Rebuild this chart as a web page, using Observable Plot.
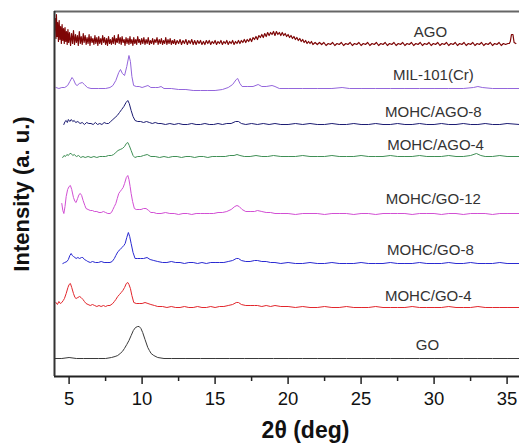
<!DOCTYPE html>
<html>
<head>
<meta charset="utf-8">
<script src="https://cdn.jsdelivr.net/npm/d3@7"></script>
<script src="https://cdn.jsdelivr.net/npm/@observablehq/plot@0.6"></script>
<style>
  html, body { margin: 0; padding: 0; background: #fff; }
  svg { display: block; }
</style>
</head>
<body>
<div id="chart"></div>
<script>
// ---- Data (2θ in degrees, intensity in arbitrary stacked units) ----
const seriesNames = ["AGO", "MIL-101(Cr)", "MOHC/AGO-8", "MOHC/AGO-4", "MOHC/GO-12", "MOHC/GO-8", "MOHC/GO-4", "GO"];
const seriesColors = ["#7e0606", "#9466dc", "#1c1c72", "#3f8f55", "#d24fd4", "#2a2ad2", "#e2262c", "#3a3a3a"];
const seriesWidths = [1.2, 1, 1, 1, 1, 1, 1, 1];

const xDomain = [4.0, 35.85];
const yDomain = [0, 365];
const xTicks = [5, 10, 15, 20, 25, 30, 35];
const xMinorTicks = [7.5, 12.5, 17.5, 22.5, 27.5, 32.5];

const AGO = [[4.05,358],[4.1,338],[4.13,362],[4.18,340],[4.22,354],[4.27,335],[4.32,356],[4.37,337],[4.42,350],[4.47,333],[4.52,352],[4.57,336],[4.62,348],[4.67,333],[4.72,349],[4.77,335],[4.82,345],[4.87,332],[4.92,347],[4.97,334],
[5.03,344],[5.1,331],[5.17,343],[5.24,333],[5.3,346],[5.37,332],[5.44,342],[5.5,334],[5.57,341],[5.63,331],[5.7,345],[5.77,333],[5.83,340],[5.9,332],[5.97,343],[6.03,334],[6.1,341],[6.17,332],[6.23,339],[6.3,333],[6.37,342],[6.43,331],[6.5,340],[6.57,334],[6.63,338],[6.7,332],[6.77,341],[6.83,333],[6.9,339],[6.97,331],[7.03,340],[7.1,333],[7.17,338],[7.23,332],[7.3,341],[7.37,334],[7.43,339],[7.5,332],[7.57,338],[7.63,331],[7.7,340],[7.77,333],[7.83,337],[7.9,332],[7.97,339],[8.03,333],[8.1,341],[8.17,332],[8.23,338],[8.3,334],[8.37,342],[8.43,333],[8.5,339],[8.57,332],[8.63,340],[8.7,334],[8.77,337],[8.83,331],[8.9,339],[8.97,333],[9.03,338],[9.1,332],[9.17,340],[9.23,333],[9.3,337],[9.37,331],[9.43,339],[9.5,333],[9.57,337],[9.63,332],[9.7,340],[9.77,334],[9.83,337],[9.9,332],[9.97,338],
[10.05,333],[10.12,339],[10.2,332],[10.27,337],[10.35,333],[10.42,339],[10.5,332],[10.57,336],[10.65,333],[10.72,338],[10.8,332],[10.87,337],[10.95,334],[11.02,339],[11.1,332],[11.17,337],[11.25,333],[11.32,338],[11.4,332],[11.47,336],[11.55,333],[11.62,339],[11.7,332],[11.77,337],[11.85,333],[11.92,338],[12.0,332],[12.07,336],[12.15,333],[12.22,337],[12.3,332],[12.4,336],[12.5,333],[12.6,337],[12.7,332],[12.8,336],[12.9,333],[13.0,337],[13.1,332],[13.2,336],[13.3,333],[13.4,337],[13.5,332],[13.6,336],[13.7,332],[13.8,336],[13.9,333],[14.0,336],[14.1,332],[14.2,335],[14.3,332],[14.4,336],[14.5,333],[14.6,336],[14.7,332],[14.8,335],[14.9,333],[15.0,336],[15.1,332],[15.2,335],[15.3,333],[15.4,336],[15.5,332],[15.6,335],[15.7,333],[15.8,336],[15.9,332],[16.0,335],[16.1,333],[16.2,336],[16.3,332],[16.4,335],[16.5,333],[16.6,336],[16.7,333],[16.8,336],[16.9,334],
[17.0,337],[17.1,334],[17.2,337],[17.3,335],[17.4,338],[17.5,335],[17.6,339],[17.7,337],[17.8,340],[17.9,337],[18.0,341],[18.1,339],[18.2,342],[18.3,339],[18.4,343],[18.5,340],[18.6,344],[18.7,341],[18.8,344],[18.9,342],[19.0,345],[19.1,341],[19.2,345],[19.3,342],[19.4,344],[19.5,341],[19.6,344],[19.7,341],[19.8,343],[19.9,340],[20.0,342],[20.1,339],[20.2,341],[20.3,338],[20.4,340],[20.5,337],[20.6,339],[20.7,336],[20.8,338],[20.9,335],[21.0,337],[21.1,334],[21.2,336],[21.3,333],[21.4,335],[21.5,333],[21.6,335],[21.7,332],
[21.85,334],[22.0,332],[22.15,334],[22.3,332],[22.45,334],[22.6,331],[22.75,333],[22.9,332],[23.05,334],[23.2,331],[23.35,333],[23.5,332],[23.65,334],[23.8,331],[23.95,333],[24.1,332],[24.25,334],[24.4,331],[24.55,333],[24.7,332],[24.85,334],[25.0,331],[25.15,333],[25.3,332],[25.45,334],[25.6,331],[25.75,333],[25.9,332],[26.05,334],[26.2,331],[26.35,333],[26.5,332],[26.65,334],[26.8,331],[26.95,333],[27.1,332],[27.25,334],[27.4,331],[27.55,333],[27.7,332],[27.85,334],[28.0,331],[28.15,333],[28.3,332],[28.45,334],[28.6,331],[28.75,333],[28.9,332],[29.05,334],[29.2,331],[29.35,333],[29.5,332],[29.65,334],[29.8,331],[29.95,333],[30.1,332],[30.25,334],[30.4,331],[30.55,333],[30.7,332],[30.85,334],[31.0,331],[31.15,333],[31.3,332],[31.45,334],[31.6,331],[31.75,333],[31.9,332],[32.05,334],[32.2,331],[32.35,333],[32.5,332],[32.65,334],[32.8,331],[32.95,333],[33.1,332],[33.25,334],[33.4,331],[33.55,333],[33.7,332],[33.85,334],[34.0,331],[34.15,333],[34.3,332],[34.45,334],[34.6,331],[34.75,333],[34.9,332],[35.05,333],[35.15,333],[35.22,335],[35.3,342],[35.4,342],[35.48,334],[35.6,333]];

const MIL101 = [[4.1,289],[4.3,288],[4.5,289],[4.7,289],[4.9,291],[5.05,295],[5.2,299],[5.3,297],[5.45,292],[5.55,291],[5.7,293],[5.9,294],[6.05,292],[6.25,289],[6.5,288],[7.0,288],[7.5,288],[7.8,289],[8.0,291],[8.2,296],[8.4,304],[8.52,307],[8.65,303],[8.8,301],[8.95,310],[9.1,321],[9.2,315],[9.3,300],[9.42,291],[9.6,290],[9.8,290],[10.0,289],[10.2,290],[10.4,291],[10.6,289],[10.9,289],[11.1,289],[11.3,290],[11.5,288],[12.0,288],[12.5,287],[13.0,287],[13.5,286],[14.0,286],[14.5,286],[15.0,286],[15.5,287],[15.9,289],[16.2,292],[16.45,297],[16.55,298],[16.7,293],[16.85,290],[17.2,290],[17.6,290],[17.95,292],[18.2,290],[18.5,290],[18.9,291],[19.1,290],[19.4,288],[20,288],[21,288],[22,288],[23,288],[23.7,289],[24.2,288],[25,288],[26,288],[27,288],[28,288],[29,288],[30,288],[31,288],[32,288],[32.7,289],[33,290],[33.3,289],[34,288],[35,288],[35.85,288]];

const MOHC_AGO8 = [[4.64,252],[4.72,255],[4.8,256],[4.88,254],[4.95,257],[5.05,255],[5.15,257],[5.25,255],[5.35,256],[5.45,254],[5.6,255],[5.75,253],[5.9,254],[6.05,252],[6.2,254],[6.35,253],[6.5,253],[6.65,252],[6.8,254],[6.95,252],[7.1,253],[7.25,252],[7.4,254],[7.55,253],[7.7,253],[7.85,255],[8.0,257],[8.15,259],[8.3,261],[8.45,264],[8.6,267],[8.75,270],[8.9,274],[9.02,276],[9.12,273],[9.25,266],[9.38,260],[9.52,256],[9.7,255],[9.9,255],[10.1,254],[10.3,255],[10.5,254],[10.7,253],[10.9,254],[11.1,253],[11.3,253],[11.6,252],[11.9,253],[12.2,252],[12.5,253],[12.8,252],[13.1,252],[13.4,253],[13.7,252],[14.0,252],[14.3,253],[14.6,252],[14.9,252],[15.2,253],[15.5,252],[15.8,253],[16.1,253],[16.4,255],[16.6,255],[16.8,253],[17.1,252],[17.5,253],[17.9,252],[18.3,253],[18.7,252],[19.1,253],[19.5,252],[20,252],[20.5,253],[21,252],[21.5,253],[22,252],[22.5,252],[23,253],[23.5,252],[24,252],[24.5,253],[25,252],[25.5,252],[26,253],[26.5,252],[27,252],[27.5,253],[28,252],[28.5,252],[29,253],[29.5,252],[30,252],[30.5,253],[31,252],[31.5,252],[32,253],[32.5,252],[33,252],[33.5,253],[34,252],[34.5,252],[35,253],[35.85,252]];

const MOHC_AGO4 = [[4.56,219],[4.65,221],[4.75,220],[4.85,222],[4.95,221],[5.05,223],[5.14,223],[5.25,221],[5.35,222],[5.5,220],[5.65,221],[5.8,219],[5.95,220],[6.1,219],[6.3,220],[6.5,219],[6.7,220],[6.9,219],[7.1,220],[7.3,220],[7.5,220],[7.7,221],[7.9,221],[8.05,222],[8.2,224],[8.35,226],[8.5,227],[8.65,228],[8.8,230],[8.92,233],[9.02,234],[9.12,231],[9.25,226],[9.38,221],[9.5,219],[9.7,220],[9.9,220],[10.1,221],[10.35,222],[10.6,220],[10.9,220],[11.2,219],[11.5,220],[11.8,219],[12.1,220],[12.4,220],[12.7,219],[13.0,220],[13.3,220],[13.6,219],[13.9,220],[14.2,220],[14.5,219],[14.8,220],[15.1,220],[15.4,220],[15.7,220],[16.0,221],[16.3,221],[16.5,222],[16.7,221],[17.0,220],[17.4,220],[17.8,221],[18.2,220],[18.6,220],[19.0,221],[19.5,220],[20,220],[20.5,220],[21,221],[21.5,220],[22,220],[22.5,220],[23,221],[23.5,220],[24,220],[24.5,220],[25,221],[25.5,220],[26,220],[26.5,220],[27,221],[27.5,220],[28,220],[28.5,220],[29,221],[29.5,220],[30,220],[30.5,220],[31,221],[31.5,220],[32,220],[32.5,221],[32.9,223],[33.2,221],[33.5,220],[34,220],[34.5,221],[35,220],[35.85,220]];

const MOHC_GO12 = [[4.5,173],[4.57,166],[4.64,163],[4.72,170],[4.8,180],[4.9,187],[5.0,190],[5.09,191],[5.18,187],[5.3,179],[5.4,175],[5.48,174],[5.58,178],[5.68,182],[5.77,183],[5.86,181],[5.96,176],[6.08,171],[6.16,168],[6.3,167],[6.45,166],[6.6,166],[6.73,165],[6.9,165],[7.05,164],[7.2,164],[7.35,165],[7.5,164],[7.65,163],[7.8,163],[7.9,164],[8.0,167],[8.1,170],[8.2,173],[8.3,178],[8.4,183],[8.5,185],[8.6,187],[8.7,189],[8.8,193],[8.92,199],[9.02,201],[9.1,197],[9.18,190],[9.25,183],[9.35,175],[9.47,168],[9.6,167],[9.8,167],[9.93,167],[10.1,168],[10.27,168],[10.45,166],[10.6,164],[10.8,164],[11.0,163],[11.3,163],[11.6,164],[11.9,163],[12.2,163],[12.5,162],[12.8,163],[13.1,163],[13.4,162],[13.7,163],[14.0,163],[14.3,163],[14.6,163],[14.9,163],[15.2,164],[15.5,164],[15.8,165],[16.1,167],[16.35,170],[16.5,171],[16.65,170],[16.85,167],[17.1,165],[17.4,165],[17.7,165],[17.9,166],[18.2,165],[18.5,164],[18.8,164],[19.1,163],[19.5,163],[20,163],[20.5,162],[21,163],[21.5,163],[22,163],[22.5,162],[23,163],[23.5,163],[24,163],[24.5,162],[25,163],[25.5,163],[26,162],[26.5,163],[27,163],[27.5,163],[28,163],[28.5,162],[29,163],[29.5,163],[30,163],[30.5,162],[31,163],[31.5,163],[32,162],[32.5,163],[33,163],[33.5,163],[34,162],[34.5,163],[35,163],[35.85,163]];

const MOHC_GO8 = [[4.57,113],[4.7,114],[4.85,115],[4.95,117],[5.05,121],[5.14,123],[5.22,121],[5.3,120],[5.4,119],[5.48,118],[5.6,119],[5.72,118],[5.85,119],[5.94,119],[6.05,117],[6.18,116],[6.28,115],[6.45,114],[6.6,115],[6.8,114],[7.0,114],[7.2,115],[7.4,114],[7.6,114],[7.8,114],[7.95,115],[8.1,118],[8.2,121],[8.35,125],[8.5,127],[8.62,129],[8.75,131],[8.84,133],[8.95,139],[9.06,144],[9.15,140],[9.25,133],[9.38,124],[9.52,118],[9.7,118],[9.9,118],[10.1,118],[10.34,119],[10.55,117],[10.8,116],[11.07,115],[11.4,114],[11.7,114],[12.0,115],[12.3,114],[12.6,114],[12.9,113],[13.2,114],[13.5,114],[13.8,113],[14.1,114],[14.4,113],[14.7,114],[15.0,114],[15.3,114],[15.6,114],[15.9,115],[16.2,116],[16.45,118],[16.6,118],[16.8,116],[17.1,115],[17.4,115],[17.7,116],[17.9,116],[18.2,115],[18.5,115],[18.8,114],[19.1,114],[19.5,113],[20,114],[20.5,113],[21,113],[21.5,114],[22,113],[22.5,113],[23,114],[23.5,113],[24,113],[24.5,113],[25,114],[25.5,113],[26,113],[26.5,113],[27,114],[27.5,113],[28,113],[28.5,113],[29,114],[29.5,113],[30,113],[30.5,113],[31,114],[31.5,113],[32,113],[32.5,114],[33,113],[33.5,113],[34,113],[34.5,114],[35,113],[35.85,113]];

const MOHC_GO4 = [[4.1,74],[4.2,72],[4.3,75],[4.4,73],[4.5,74],[4.6,76],[4.68,78],[4.8,83],[4.92,89],[5.0,92],[5.09,93],[5.18,89],[5.3,83],[5.4,79],[5.48,78],[5.6,79],[5.72,80],[5.82,79],[5.95,77],[6.05,75],[6.16,73],[6.3,72],[6.45,71],[6.6,72],[6.75,71],[6.9,70],[7.05,71],[7.19,70],[7.35,71],[7.5,70],[7.65,71],[7.8,71],[7.99,73],[8.1,75],[8.2,77],[8.33,80],[8.45,82],[8.57,84],[8.68,86],[8.8,89],[8.92,93],[9.02,94],[9.1,92],[9.2,88],[9.3,81],[9.43,74],[9.6,73],[9.8,73],[10.0,73],[10.2,74],[10.4,73],[10.6,72],[10.85,71],[11.07,70],[11.4,70],[11.7,69],[12.0,70],[12.3,69],[12.6,69],[12.9,70],[13.2,69],[13.5,69],[13.8,70],[14.1,69],[14.4,69],[14.7,70],[15.0,69],[15.3,70],[15.6,70],[15.9,71],[16.2,72],[16.45,74],[16.6,74],[16.8,72],[17.1,71],[17.4,71],[17.7,71],[17.9,71],[18.2,70],[18.5,71],[18.8,70],[19.1,71],[19.5,70],[20,70],[20.5,69],[21,70],[21.5,69],[22,69],[22.5,70],[23,69],[23.5,69],[24,70],[24.5,69],[25,69],[25.5,69],[26,70],[26.5,69],[27,69],[27.5,69],[28,69],[28.5,70],[29,69],[29.5,69],[30,69],[30.5,69],[31,70],[31.5,69],[32,69],[32.5,69],[33,70],[33.5,69],[34,69],[34.5,69],[35,69],[35.85,69]];

const GO = [[4.05,18],[4.5,18],[5,19],[5.5,18],[6,18],[6.5,18],[7,18],[7.5,18],[7.9,19],[8.15,20],[8.33,21],[8.5,23],[8.65,25],[8.79,28],[8.95,32],[9.1,36],[9.25,41],[9.4,46],[9.55,49],[9.7,50],[9.8,50],[9.92,48],[10.04,44],[10.2,37],[10.39,29],[10.5,26],[10.62,23],[10.8,21],[11.07,19],[11.5,18],[12,18],[13,18],[14,18],[15,18],[16,18],[17,18],[18,18],[19,18],[20,18],[21,18],[22,18],[23,18],[24,18],[25,18],[26,18],[27,18],[28,18],[29,18],[30,18],[31,18],[32,18],[33,18],[34,18],[35,18],[35.85,18]];

const seriesPoints = [AGO, MIL101, MOHC_AGO8, MOHC_AGO4, MOHC_GO12, MOHC_GO8, MOHC_GO4, GO];

// label anchor positions (2θ, intensity) for each series name
const labelTheta = [29.75, 29.95, 29.95, 30.1, 29.95, 29.75, 29.6, 29.55];
const labelIntensity = [344, 301, 264, 231, 177, 126, 80, 31];

// ---- Build tables ----
const data = seriesNames.flatMap((name, i) => seriesPoints[i].map(([t, v]) => ({name, t, v, w: seriesWidths[i]})));
const labels = seriesNames.map((name, i) => ({name, t: labelTheta[i], v: labelIntensity[i]}));

const chart = Plot.plot({
  width: 519,
  height: 443,
  marginTop: 11,
  marginBottom: 67,
  marginLeft: 54,
  marginRight: 0,
  style: {fontFamily: "'Liberation Sans', Arial, sans-serif", background: "#fff", color: "#111"},
  x: {domain: xDomain},
  y: {domain: yDomain, axis: null},
  color: {domain: seriesNames, range: seriesColors},
  marks: [
    ...seriesNames.map((name, i) =>
      Plot.line(data.filter(d => d.name === name), {x: "t", y: "v", stroke: "name", strokeWidth: seriesWidths[i]})
    ),
    Plot.axisX(xMinorTicks, {tickSize: 5, text: null, label: null, strokeWidth: 1.5, stroke: "#222"}),
    Plot.axisX(xTicks, {tickSize: 8, tickPadding: 7, fontSize: 18.5, label: null, strokeWidth: 1.5, stroke: "#222", fill: "#111"}),
    Plot.ruleY([yDomain[0]], {stroke: "#222", strokeWidth: 2}),
    Plot.ruleY([yDomain[1]], {stroke: "#666", strokeWidth: 2}),
    Plot.ruleX([xDomain[0]], {stroke: "#333", strokeWidth: 2}),
    Plot.text(labels, {x: "t", y: "v", text: "name", fontSize: 15, fill: "#333"}),
    Plot.text(["2θ (deg)"], {frameAnchor: "bottom", textAnchor: "middle", lineAnchor: "middle", dx: 18.5, dy: 54, fontSize: 23, fontWeight: "bold", fill: "#111"}),
    Plot.text(["Intensity (a. u.)"], {frameAnchor: "left", textAnchor: "middle", lineAnchor: "middle", rotate: -90, dx: -33, fontSize: 22, fontWeight: "bold", fill: "#111"})
  ]
});

document.getElementById("chart").appendChild(chart);
</script>
</body>
</html>
